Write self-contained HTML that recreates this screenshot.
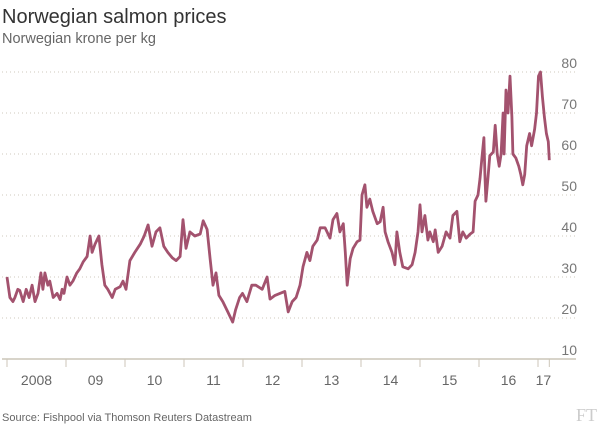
<!DOCTYPE html>
<html><head><meta charset="utf-8"><style>
body{margin:0;background:#fff;width:601px;height:426px;overflow:hidden;font-family:"Liberation Sans",sans-serif}
svg{display:block}
</style></head><body>
<svg id="c" width="601" height="426">
<text x="2" y="23" font-size="20" fill="#333">Norwegian salmon prices</text>
<text x="2" y="43" font-size="14.5" fill="#666">Norwegian krone per kg</text>
<g id="grid"></g><g id="xaxis"></g>
<path id="line" fill="none" stroke="#a3526e" stroke-width="2.8" stroke-linejoin="round"/>
<text x="2" y="421" font-size="11" fill="#666">Source: Fishpool via Thomson Reuters Datastream</text>
<text x="597" y="421" font-size="18" fill="#ccc" text-anchor="end" font-family="Liberation Serif,serif">FT</text>
</svg>
<script>
const months=[0,0.6,1.2,1.6,2.2,2.6,3.3,3.9,4.5,5.1,5.7,6.3,6.9,7.3,7.7,8.3,8.7,9.4,10.2,10.8,11.2,11.6,
12.2,12.8,13.4,14.2,14.8,15.5,16.3,16.9,17.3,17.9,18.7,19.3,19.9,20.5,21.4,22.0,23.0,23.6,24.2,
25.0,26.0,27.1,27.9,28.7,29.5,30.3,31.1,31.9,32.7,33.6,34.4,35.2,35.8,36.4,
37.2,38.2,39.3,39.9,40.7,41.3,41.9,42.5,43.1,43.9,44.9,45.9,46.5,47.3,47.9,
48.8,49.8,50.6,51.9,52.9,53.5,54.5,55.5,56.5,57.2,58.0,58.8,59.6,
60.2,61.0,61.6,62.2,63.1,63.7,64.7,65.7,66.3,67.1,67.7,68.4,68.8,69.2,69.8,70.4,71.2,71.8,
72.2,72.8,73.2,73.8,74.4,75.3,75.9,76.5,76.9,77.5,78.3,78.9,79.3,79.9,80.5,81.6,82.4,83.0,83.6,
84.0,84.4,85.0,85.6,86.0,86.7,87.1,87.7,88.5,89.3,90.1,90.7,91.5,92.1,92.7,93.4,94.2,94.8,95.2,95.8,
96.2,96.6,97.0,97.2,97.4,97.8,98.2,98.9,99.3,99.7,100.1,100.5,100.9,101.1,101.5,101.9,102.3,102.7,102.9,103.5,104.1,104.5,104.9,105.3,105.7,106.3,106.7,107.3,107.7,108.1,108.5,108.9,109.3,109.7,110.1,110.3];
const prices=[30,25,24,25,27,26.7,24,27,25,28,24,26,31,27,31,28,29,25,26,24.5,27,26,
30,28,29,31,32,33.7,35,40,36,38,40,33,28,27,25,27,27.6,29,27,
34,36,38,40,42.7,37.5,41,42,37.5,36,34.7,34,35,44,37,
41,40,40.5,43.7,41.6,34.5,28,31,25.5,24,21.5,19,22,25,26,
24,28,28,27,30,24.6,25.5,26,26.5,21.5,24,25,28,
32.5,36,34,37.5,39,42,42,39.5,44,45.5,41,43,36,28,34.5,37,38.6,39,
50,52.5,47,49,46,43,43.5,47,41,38.6,36,33,41,36,32.5,32,33,36,41,
47.6,41,45,39,41,38.6,41.5,36,37.5,41,39.5,45,46,38.6,41,39.5,40.5,41,48.5,50,
54,59,64,55,48.5,54,59.6,60.5,67,60,57,60,70,60,75.6,70,79,69,60,59,57,55,52.5,55,62,65,62,66,70,79,80,74,69,65,63,58.5];
const yTicks=[10,20,30,40,50,60,70,80];
const xLabels=["2008","09","10","11","12","13","14","15","16","17"];
const NS="http://www.w3.org/2000/svg";
const xS=m=>7+m/12*59, yS=v=>359-(v-10)*4.1;
const grid=document.getElementById('grid');
yTicks.forEach(t=>{
 if(t>10){const l=document.createElementNS(NS,'line');
 l.setAttribute('x1',2);l.setAttribute('x2',576);l.setAttribute('y1',yS(t));l.setAttribute('y2',yS(t));
 l.setAttribute('stroke','#cfcabd');l.setAttribute('stroke-dasharray','1 3');
 
 
 grid.appendChild(l);}
 const tx=document.createElementNS(NS,'text');
 tx.setAttribute('x',577);tx.setAttribute('y',yS(t)-4);tx.setAttribute('text-anchor','end');
 tx.setAttribute('font-size','14');tx.setAttribute('fill','#777');tx.textContent=t;
 
 
 grid.appendChild(tx);
});
const xa=document.getElementById('xaxis');
const ax=document.createElementNS(NS,'line');
ax.setAttribute('x1',2);ax.setAttribute('x2',576);ax.setAttribute('y1',359);ax.setAttribute('y2',359);ax.setAttribute('stroke','#ccc6b8');ax.setAttribute('stroke-width','1.5');


xa.appendChild(ax);
xLabels.forEach((lb,i)=>{
 const x0=xS(i*12), x1=i<xLabels.length-1?xS((i+1)*12):xS(i*12+2.2);
 const tk=document.createElementNS(NS,'line');
 tk.setAttribute('x1',x0);tk.setAttribute('x2',x0);tk.setAttribute('y1',359);tk.setAttribute('y2',367);tk.setAttribute('stroke','#ccc6b8');
 
 
 xa.appendChild(tk);
 const tx=document.createElementNS(NS,'text');
 tx.setAttribute('x',(x0+x1)/2);tx.setAttribute('y',385);tx.setAttribute('text-anchor','middle');
 tx.setAttribute('font-size','14');tx.setAttribute('fill','#666');tx.textContent=lb;
 
 
 xa.appendChild(tx);
});
const te=document.createElementNS(NS,'line');
te.setAttribute('x1',xS(110.3));te.setAttribute('x2',xS(110.3));te.setAttribute('y1',359);te.setAttribute('y2',367);te.setAttribute('stroke','#ccc6b8');


xa.appendChild(te);
document.getElementById('line').setAttribute('d',months.map((m,i)=>(i?'L':'M')+xS(m).toFixed(1)+','+yS(prices[i]).toFixed(1)).join(''));
</script>
</body></html>
